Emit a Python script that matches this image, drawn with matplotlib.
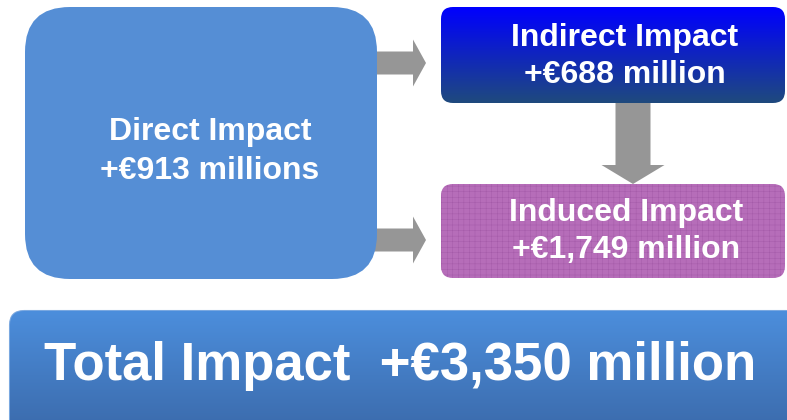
import numpy as np
import matplotlib.pyplot as plt
from matplotlib.patches import FancyBboxPatch, FancyArrow
from matplotlib.colors import LinearSegmentedColormap

plt.rcParams['font.family'] = ['Liberation Sans', 'DejaVu Sans']
plt.rcParams['hatch.linewidth'] = 0.3

# Diagram content
labels = ["Direct Impact", "Indirect Impact", "Induced Impact", "Total Impact"]
values = ["+€913 millions", "+€688 million", "+€1,749 million", "+€3,350 million"]

fig = plt.figure(figsize=(7.87, 4.2), dpi=100)
ax = fig.add_axes([0, 0, 1, 1])
ax.set_xlim(0, 787)
ax.set_ylim(420, 0)
ax.axis('off')


def rbox(x0, y0, x1, y1, r, **kw):
    p = FancyBboxPatch((x0 + r, y0 + r), (x1 - x0) - 2 * r, (y1 - y0) - 2 * r,
                       boxstyle="round,pad=%g" % r, **kw)
    ax.add_patch(p)
    return p


def gradient(patch, x0, y0, x1, y1, c_top, c_bot):
    cmap = LinearSegmentedColormap.from_list("g", [c_top, c_bot])
    grad = np.linspace(0, 1, 256).reshape(-1, 1)
    im = ax.imshow(grad, cmap=cmap, extent=(x0, x1, y1, y0), aspect='auto', zorder=patch.get_zorder() + 0.1)
    im.set_clip_path(patch)


txt = dict(ha='center', va='center', color='white', fontsize=23, fontweight='bold', zorder=5)

# Direct impact box
rbox(25, 7, 377, 279, 45, facecolor='#558ED5', edgecolor='none', zorder=2)
ax.text(210, 132, labels[0], **txt)
ax.text(210, 171, values[0], **txt)

# arrows from direct box
arrow_kw = dict(width=23, head_width=47, head_length=13, length_includes_head=True,
                facecolor='#969696', edgecolor='none', zorder=1)
ax.add_patch(FancyArrow(370, 63, 56, 0, **arrow_kw))
ax.add_patch(FancyArrow(370, 240, 56, 0, **arrow_kw))

# Indirect impact box (gradient)
p = rbox(441, 7, 785, 103, 12, facecolor='none', edgecolor='none', zorder=2)
gradient(p, 441, 7, 785, 103, '#0000FF', '#1F4A7D')
ax.text(625, 38, labels[1], **txt)
ax.text(625, 75, values[1], **txt)

# down arrow
ax.add_patch(FancyArrow(633, 100, 0, 84, width=35, head_width=63, head_length=19,
                        length_includes_head=True, facecolor='#969696', edgecolor='none', zorder=1))

# Induced impact box (textured)
rbox(441, 184, 785, 278, 12, facecolor='#B66DB9', edgecolor='#A258A6', hatch='+++',
     linewidth=0, zorder=2)
ax.text(626, 213, labels[2], **txt)
ax.text(626, 250, values[2], **txt)

# Total impact bar
p = rbox(10, 311, 800, 440, 14, facecolor='none', edgecolor='#7AA8E0', linewidth=1.5, zorder=2)
gradient(p, 10, 311, 800, 440, '#4C8EDC', '#3A68A8')
ax.text(400, 366, labels[3] + "  " + values[3], ha='center', va='center', color='white',
        fontsize=38, fontweight='bold', zorder=5)

fig.savefig('out.png', dpi=100)
